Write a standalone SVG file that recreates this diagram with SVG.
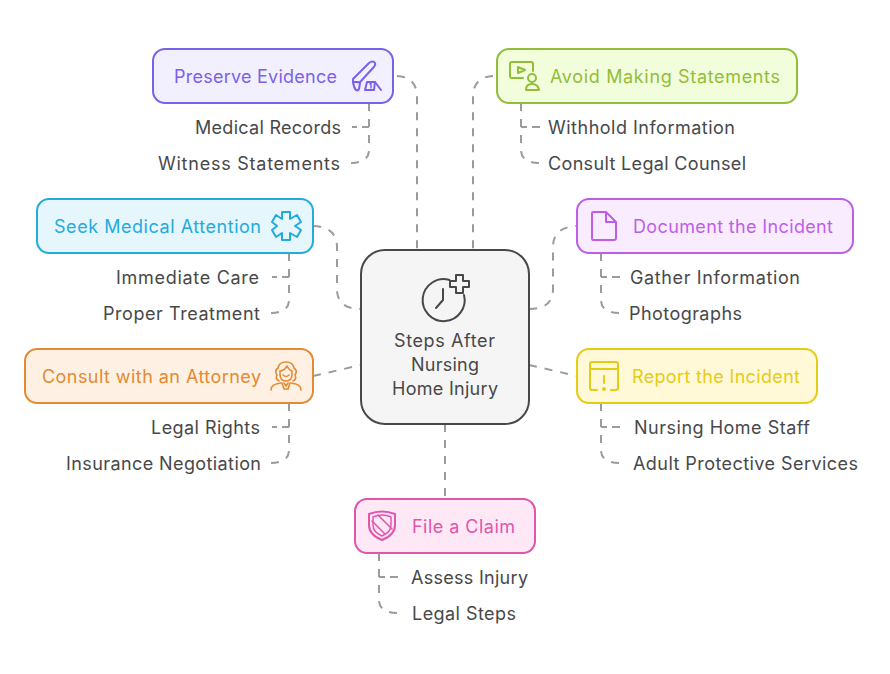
<svg xmlns="http://www.w3.org/2000/svg" width="890" height="674" viewBox="0 0 890 674">
<style>
text{font-family:Inter,"Liberation Sans",sans-serif;font-size:18px;fill:#484848}
.c path{fill:none;stroke:#9b9b9b;stroke-width:2;stroke-dasharray:8 8}
.c path.tl{stroke-dasharray:7 5 5 8}
.c path.tr{stroke-dasharray:8 5 6 8}
.b{stroke-width:2}
.i{fill:none;stroke-width:2;stroke-linecap:round;stroke-linejoin:round}
</style>
<rect width="890" height="674" fill="#fff"/>
<g id="connectors" class="c">
<path d="M397 76Q417 77 417 97V250"/>
<path d="M369 103V150Q369 163 349 163"/><path class="tl" d="M369 127H352"/>
<path d="M493 76Q473 77 473 97V250"/>
<path d="M521 103V150Q521 163 541 163"/><path class="tr" d="M540 127H521"/>
<path d="M313 226Q337 227 337 247V289Q337 309 361 309"/>
<path d="M289 253V300Q289 313 269 313"/><path class="tl" d="M289 277H272"/>
<path d="M313 376L361 365"/>
<path d="M289 403V450Q289 463 269 463"/><path class="tl" d="M289 427H272"/>
<path d="M529 309Q553 309 553 289V247Q553 227 577 226"/>
<path d="M601 253V300Q601 313 621 313"/><path class="tr" d="M620 277H601"/>
<path d="M529 365L577 376"/>
<path d="M601 403V450Q601 463 621 463"/><path class="tr" d="M620 427H601"/>
<path d="M445 424V499"/>
<path d="M379 553V600Q379 613 399 613"/><path class="tr" d="M398 577H379"/>
</g>
<g id="center">
<rect x="361" y="250" width="168" height="174" rx="24" fill="#f5f5f5" stroke="#484848" stroke-width="2"/>
<g class="i" stroke="#484848">
<path d="M449.500 280A21 21 0 1 0 464 295"/>
<path d="M443 289V300L436 308"/>
<path d="M456 275H463V281H469V287H463V293H456V287H450V281H456Z"/>
</g>
<text x="394" y="347" textLength="101">Steps After</text>
<text x="411" y="371" textLength="68">Nursing</text>
<text x="392" y="395" textLength="106">Home Injury</text>
</g>
<g id="preserve">
<rect class="b" x="153" y="49" width="240" height="54" rx="12" fill="#f2f0ff" stroke="#7b61e8"/>
<text x="174" y="83" textLength="163" style="fill:#7b61e8">Preserve Evidence</text>
<g class="i" stroke="#7b61e8">
<path d="M353 79L369 63Q373 60 375 63Q376 65 373 68L361 81Q360 83 357 82H353Z"/>
<path d="M353 82Q354 88 356 90Q358 91 359 89L360 83"/>
<path d="M367 82H375L374 90H365Z"/>
<path d="M375 82L381 90"/>
<path d="M370 84L371 83.500V88" stroke-width="1.500"/>
</g>
</g>
<g id="medical-records"><text x="195" y="134" textLength="146">Medical Records</text></g>
<g id="witness-statements"><text x="158" y="170" textLength="182">Witness Statements</text></g>
<g id="avoid">
<rect class="b" x="497" y="49" width="300" height="54" rx="12" fill="#f2fddc" stroke="#92bd39"/>
<text x="550" y="83" textLength="230" style="fill:#92bd39">Avoid Making Statements</text>
<g class="i" stroke="#92bd39">
<path d="M523 78H512Q510 78 510 76V64Q510 62 512 62H531Q533 62 533 64V71"/>
<path d="M518 67L525 70L518 73Z"/>
<circle cx="532" cy="78" r="4"/>
<path d="M526 90Q526 84 532 84Q538 84 539 90Z"/>
</g>
</g>
<g id="withhold"><text x="548" y="134" textLength="187">Withhold Information</text></g>
<g id="consult-legal"><text x="548" y="170" textLength="198">Consult Legal Counsel</text></g>
<g id="seek">
<rect class="b" x="37" y="199" width="276" height="54" rx="12" fill="#e5f6fd" stroke="#24abdb"/>
<text x="54" y="233" textLength="207" style="fill:#24abdb">Seek Medical Attention</text>
<path class="i" transform="translate(1 0)" stroke="#24abdb" d="M281 212H289V219L296 215L300 222L294 226L300 230L296 237L289 233V240H281V233L275 237L271 230L276 226L271 222L275 215L281 219Z"/>
</g>
<g id="immediate-care"><text x="116" y="284" textLength="143">Immediate Care</text></g>
<g id="proper-treatment"><text x="103" y="320" textLength="157">Proper Treatment</text></g>
<g id="document">
<rect class="b" x="577" y="199" width="276" height="54" rx="12" fill="#f9ecff" stroke="#bd5fe6"/>
<text x="633" y="233" textLength="200" style="fill:#bd5fe6">Document the Incident</text>
<path class="i" stroke="#bd5fe6" d="M593 212H606L616 222V238Q616 240 614 240H593Q592 240 592 238V213Q592 212 593 212ZM606 212V222H616"/>
</g>
<g id="gather"><text x="630" y="284" textLength="170">Gather Information</text></g>
<g id="photographs"><text x="629" y="320" textLength="113">Photographs</text></g>
<g id="attorney">
<rect class="b" x="25" y="349" width="288" height="54" rx="12" fill="#fef1e3" stroke="#e38a32"/>
<text x="42" y="383" textLength="219" style="fill:#e38a32">Consult with an Attorney</text>
<g class="i" stroke="#e38a32" style="stroke-width:1.600">
<path d="M279 381Q275 379 277 375Q274 371 278 368Q279 362 286 362Q293 362 294 368Q298 371 295 375Q297 379 293 381"/>
<path d="M280 371Q284 371 287 366Q289 370 292 371V374Q292 381 286 381Q280 381 280 374Z"/>
<path d="M283 375Q286 378 289 375"/>
<path d="M271 390Q271 384 281 383M301 390Q301 384 291 383"/>
<path d="M282 383L284 389H288L290 383M284 383L286 386L288 383"/>
</g>
</g>
<g id="legal-rights"><text x="151" y="434" textLength="109">Legal Rights</text></g>
<g id="insurance"><text x="66" y="470" textLength="195">Insurance Negotiation</text></g>
<g id="report">
<rect class="b" x="577" y="349" width="240" height="54" rx="12" fill="#fff9d8" stroke="#e5cc14"/>
<text x="632" y="383" textLength="168" style="fill:#e5cc14">Report the Incident</text>
<g class="i" stroke="#e5cc14">
<path d="M597 390H592Q590 390 590 388V364Q590 362 592 362H616Q618 362 618 364V388Q618 390 616 390H611"/>
<path d="M590 369H618M604 376V383"/>
<circle cx="604" cy="389" r="1"/>
</g>
</g>
<g id="nursing-staff"><text x="634" y="434" textLength="176">Nursing Home Staff</text></g>
<g id="adult"><text x="633" y="470" textLength="225">Adult Protective Services</text></g>
<g id="claim">
<rect class="b" x="355" y="499" width="180" height="54" rx="12" fill="#fee8f6" stroke="#e155ab"/>
<text x="412" y="533" textLength="103" style="fill:#e155ab">File a Claim</text>
<g class="i" stroke="#e155ab">
<path d="M369 514Q382 509 395 514V525Q395 535 382 540Q369 535 369 525Z"/>
<path d="M373 517Q382 513 391 517V525Q391 532 382 536Q373 532 373 525Z" stroke-width="1.500"/>
<path d="M378 515L392 529M372 521L385 534" stroke-width="1.500"/>
</g>
</g>
<g id="assess"><text x="411" y="584" textLength="117">Assess Injury</text></g>
<g id="legal-steps"><text x="412" y="620" textLength="104">Legal Steps</text></g>
</svg>
